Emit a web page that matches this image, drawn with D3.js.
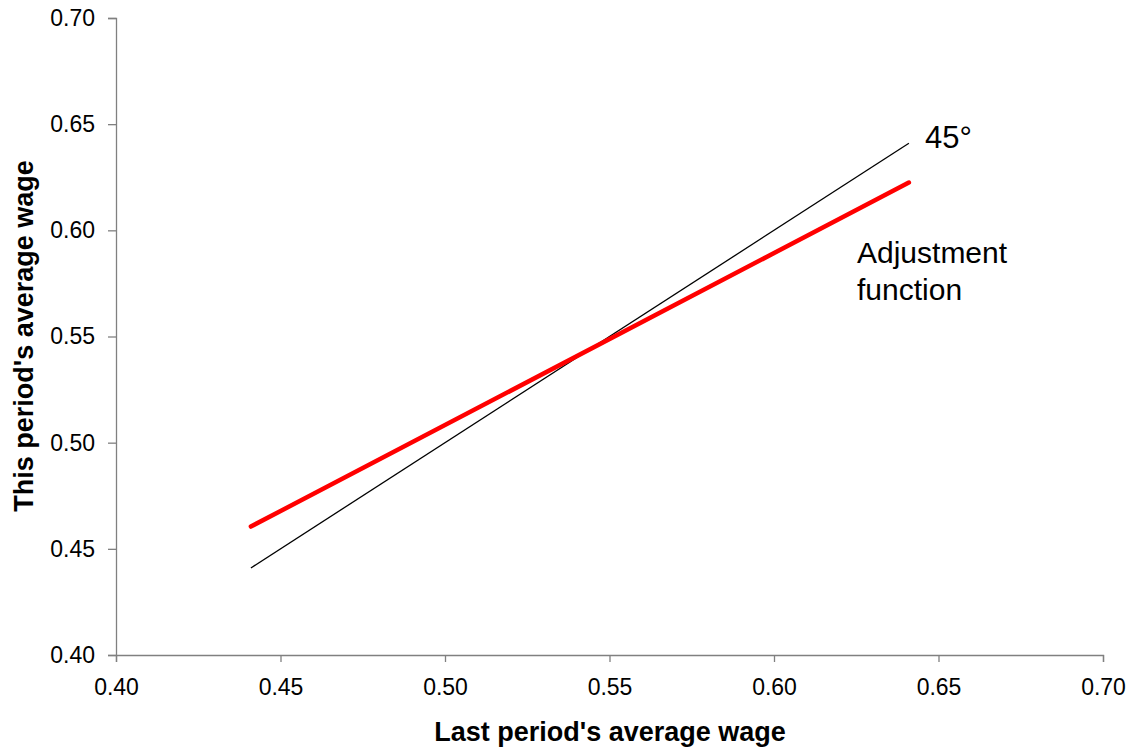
<!DOCTYPE html>
<html><head><meta charset="utf-8">
<script src="https://cdn.jsdelivr.net/npm/d3@7"></script>
<style>body{margin:0;background:#fff;} text{font-family:"Liberation Sans",Arial,sans-serif;}</style>
</head><body>
<svg id="c" width="1133" height="751"></svg>
<script>
const xTicks = [0.40,0.45,0.50,0.55,0.60,0.65,0.70];
const yTicks = [0.40,0.45,0.50,0.55,0.60,0.65,0.70];
const lineX = [0.441, 0.641];
const line45 = [0.441, 0.641];
const adjustment = [0.4605, 0.6225];

const svg = d3.select("#c");
const x = d3.scaleLinear().domain([0.40,0.70]).range([116,1103]);
const y = d3.scaleLinear().domain([0.40,0.70]).range([655,18]);

const xa = svg.append("g").attr("transform","translate(0,655)")
  .call(d3.axisBottom(x).tickValues(xTicks).tickFormat(d3.format(".2f")).tickSizeOuter(0).tickSize(7).tickPadding(17));
const ya = svg.append("g").attr("transform","translate(116,0)")
  .call(d3.axisLeft(y).tickValues(yTicks).tickFormat(d3.format(".2f")).tickSizeOuter(0).tickSize(8).tickPadding(13));
[xa,ya].forEach(a=>{
  a.attr("font-size",null).attr("font-family",null);
  a.selectAll("path,line").attr("stroke","#808080").attr("stroke-width",1.3);
  a.selectAll("text").attr("fill","#000").style("font-size","23px").style("font-family","Liberation Sans, Arial, sans-serif");
});

const ln = d3.line().x(d=>x(d[0])).y(d=>y(d[1]));
svg.append("path").datum(lineX.map((v,i)=>[v,line45[i]])).attr("d",ln)
  .attr("fill","none").attr("stroke","#000").attr("stroke-width",1.3);
svg.append("path").datum(lineX.map((v,i)=>[v,adjustment[i]])).attr("d",ln)
  .attr("fill","none").attr("stroke","#ff0000").attr("stroke-width",4.5).attr("stroke-linecap","round");

svg.append("text").attr("x",925).attr("y",148).style("font-size","31px").text("45°");
const t = svg.append("text").attr("x",857).attr("y",263).style("font-size","30px");
t.append("tspan").attr("x",857).text("Adjustment");
t.append("tspan").attr("x",857).attr("dy",37).text("function");

svg.append("text").attr("x",610).attr("y",741).attr("text-anchor","middle")
  .style("font-size","27px").style("font-weight","bold").text("Last period's average wage");
svg.append("text").attr("transform","translate(33,336) rotate(-90)").attr("text-anchor","middle")
  .style("font-size","27px").style("font-weight","bold").text("This period's average wage");
</script>
</body></html>
